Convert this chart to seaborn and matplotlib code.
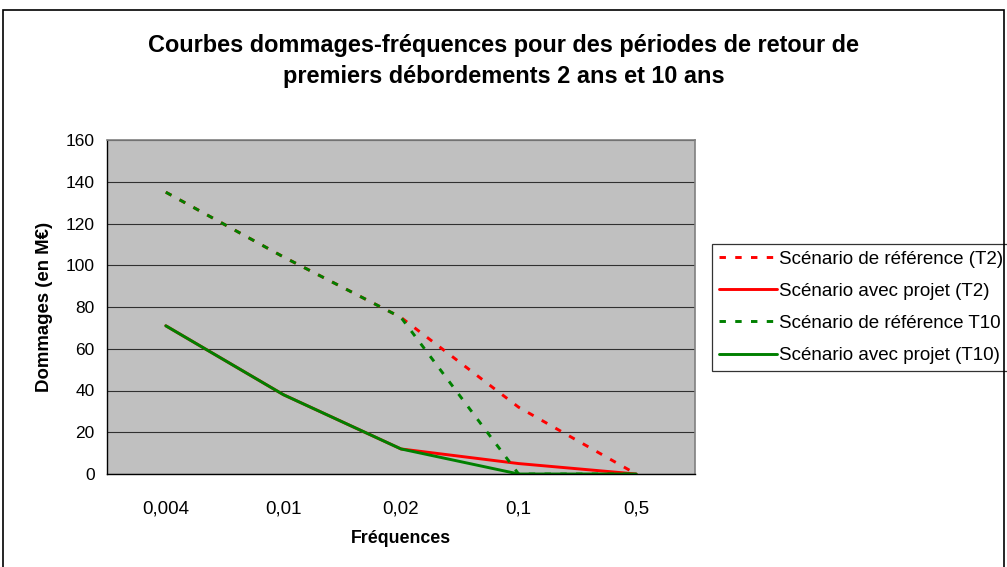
import pandas as pd
import matplotlib.pyplot as plt
import seaborn as sns
from matplotlib.patches import Rectangle
from matplotlib.ticker import FixedLocator

# Data
frequences = ["0,004", "0,01", "0,02", "0,1", "0,5"]
ref_t2 = [135, 104, 75, 32, 0]
projet_t2 = [71, 38, 12, 5, 0]
ref_t10 = [135, 104, 75, 0, 0]
projet_t10 = [71, 38, 12, 0, 0]

series = [
    ("Scénario de référence (T2)", ref_t2, "#FF0000", True),
    ("Scénario avec projet (T2)", projet_t2, "#FF0000", False),
    ("Scénario de référence T10", ref_t10, "#008000", True),
    ("Scénario avec projet (T10)", projet_t10, "#008000", False),
]

sns.set_style("white")
plt.rcParams['font.family'] = ['Liberation Sans', 'DejaVu Sans']
plt.rcParams['text.color'] = 'black'
plt.rcParams['axes.labelcolor'] = 'black'
plt.rcParams['xtick.color'] = 'black'
plt.rcParams['ytick.color'] = 'black'

fig = plt.figure(figsize=(10.07, 5.67), dpi=100)
ax = fig.add_axes([107 / 1007, 1 - 474 / 567, 588 / 1007, 334 / 567])
ax.set_facecolor("#C0C0C0")

for name, vals, color, dashed in series:
    df = pd.DataFrame({"freq": frequences, "dommages": vals})
    sns.lineplot(data=df, x="freq", y="dommages", sort=False, color=color,
                 linewidth=2.1, label=name, ax=ax, dashes=False)
    if dashed:
        ax.lines[-1].set_dashes((2.2, 3.2))

ax.set_xlim(-0.5, len(frequences) - 0.5)
ax.set_ylim(0, 160)
ax.set_yticks(range(0, 161, 20))
ax.yaxis.grid(True, color="#000000", linewidth=0.8, alpha=0.75)
ax.set_axisbelow(True)

# tick marks between categories, like Excel
ax.xaxis.set_minor_locator(FixedLocator([i - 0.5 for i in range(len(frequences) + 1)]))
ax.tick_params(axis="x", which="major", length=0, pad=19, labelsize=13.5)
ax.tick_params(axis="x", which="minor", length=5, width=1, color="black", direction="out")
ax.tick_params(axis="y", length=5, width=1, color="black", direction="out", labelsize=12.5, pad=4)

for side in ["top", "right"]:
    ax.spines[side].set_color("#808080")
    ax.spines[side].set_linewidth(1.2)
for side in ["left", "bottom"]:
    ax.spines[side].set_color("black")
    ax.spines[side].set_linewidth(1)

ax.set_xlabel("Fréquences", fontsize=12.8, fontweight="bold", labelpad=9)
ax.set_ylabel("Dommages (en M€)", fontsize=13.4, fontweight="bold", labelpad=9)

fig.text(0.5, 1 - 61 / 567,
         "Courbes dommages-fréquences pour des périodes de retour de\npremiers débordements 2 ans et 10 ans",
         ha="center", va="center", fontsize=16.9, fontweight="bold", linespacing=1.45)

leg = ax.legend(loc="upper left", bbox_to_anchor=(712 / 1007, 1 - 244 / 567),
                bbox_transform=fig.transFigure, frameon=True, fancybox=False,
                edgecolor="black", fontsize=13.5, handlelength=3.1, handletextpad=0.1,
                labelspacing=0.8, borderaxespad=0, borderpad=0.35)
leg.get_frame().set_linewidth(0.9)

fig.patches.append(Rectangle((3 / 1007, -0.01), 1001 / 1007, 1 - 10 / 567 + 0.01,
                             transform=fig.transFigure, fill=False,
                             edgecolor="black", linewidth=1.2))

fig.savefig("out.png", dpi=100)
